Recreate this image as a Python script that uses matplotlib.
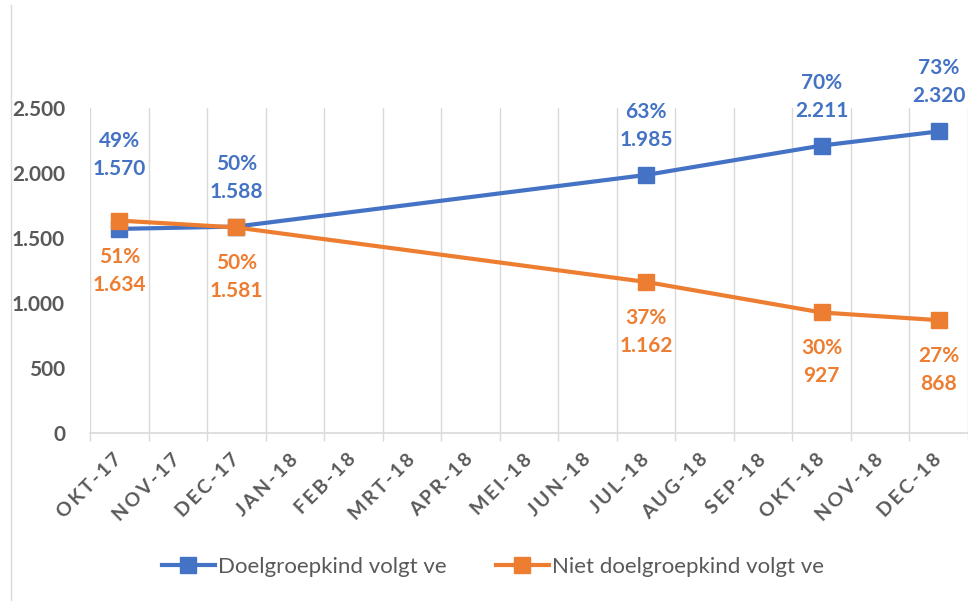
import matplotlib
matplotlib.use("Agg")
import matplotlib.pyplot as plt
from matplotlib.lines import Line2D

months = ["OKT-17", "NOV-17", "DEC-17", "JAN-18", "FEB-18", "MRT-18", "APR-18",
          "MEI-18", "JUN-18", "JUL-18", "AUG-18", "SEP-18", "OKT-18", "NOV-18", "DEC-18"]
point_months = ["OKT-17", "DEC-17", "JUL-18", "OKT-18", "DEC-18"]
doel_values = [1570, 1588, 1985, 2211, 2320]
doel_pct = [49, 50, 63, 70, 73]
niet_values = [1634, 1581, 1162, 927, 868]
niet_pct = [51, 50, 37, 30, 27]
series_names = ["Doelgroepkind volgt ve", "Niet doelgroepkind volgt ve"]

BLUE = "#4472C4"
ORANGE = "#ED7D31"
GRAY = "#595959"

plt.rcParams['font.family'] = ['Lato', 'DejaVu Sans']

fig = plt.figure(figsize=(9.68, 6.01), dpi=100)
ax = fig.add_axes([90/968, 1-433/601, 878/968, (433-108)/601])

xs = [months.index(m) for m in point_months]

ax.plot(xs, doel_values, color=BLUE, lw=3, marker='s', markersize=12,
        markeredgecolor=BLUE, label=series_names[0], zorder=3)
ax.plot(xs, niet_values, color=ORANGE, lw=3, marker='s', markersize=12,
        markeredgecolor=ORANGE, label=series_names[1], zorder=4)

def fmt(v):
    return f"{v:,}".replace(",", ".")

for i, (x, v, p) in enumerate(zip(xs, doel_values, doel_pct)):
    off = 50 if i == 0 else 25
    ax.annotate(f"{p}%\n{fmt(v)}", (x, v), xytext=(0, off), textcoords='offset pixels',
                ha='center', va='bottom', color=BLUE, fontsize=15, fontweight='bold',
                linespacing=1.5)
for x, v, p in zip(xs, niet_values, niet_pct):
    ax.annotate(f"{p}%\n{fmt(v)}", (x, v), xytext=(0, -26), textcoords='offset pixels',
                ha='center', va='top', color=ORANGE, fontsize=15, fontweight='bold',
                linespacing=1.5)

ax.set_xlim(-0.5, len(months) - 0.5)
ax.set_ylim(0, 2500)
ax.set_yticks([0, 500, 1000, 1500, 2000, 2500])
ax.set_yticklabels([fmt(v) for v in [0, 500, 1000, 1500, 2000, 2500]])

# category labels on major ticks, boundaries on minor ticks
ax.set_xticks(range(len(months)))
ax.set_xticklabels(["\u2009".join(list(m)) for m in months],
                   fontsize=14, fontweight='bold', color=GRAY)
ax.tick_params(axis='x', which='major', length=0, pad=17, labelrotation=45)
plt.setp(ax.get_xticklabels(), ha='right', va='center', rotation_mode='anchor')
ax.set_xticks([i + 0.5 for i in range(-1, len(months))], minor=True)
ax.tick_params(axis='x', which='minor', length=6, color="#D9D9D9", width=1)
ax.tick_params(axis='y', length=0, pad=18, labelsize=15, labelcolor=GRAY)
for lab in ax.get_yticklabels():
    lab.set_fontweight('bold')

ax.grid(axis='x', which='minor', color="#D9D9D9", lw=1)
ax.grid(axis='x', which='major', visible=False)
ax.set_axisbelow(True)
for s in ['top', 'right', 'left']:
    ax.spines[s].set_visible(False)
ax.spines['bottom'].set_color("#D9D9D9")
ax.spines['bottom'].set_linewidth(1.2)

fig.legend(loc='center', bbox_to_anchor=(493/968, 1-567/601), ncol=2, frameon=False,
           prop={'size': 16}, labelcolor=GRAY, handlelength=2.4, handletextpad=0.15,
           columnspacing=2.2)

fig.add_artist(Line2D([11/968, 11/968], [0, 1 - 5/601], color="#D9D9D9", lw=1))

fig.savefig("out.png", dpi=100)
